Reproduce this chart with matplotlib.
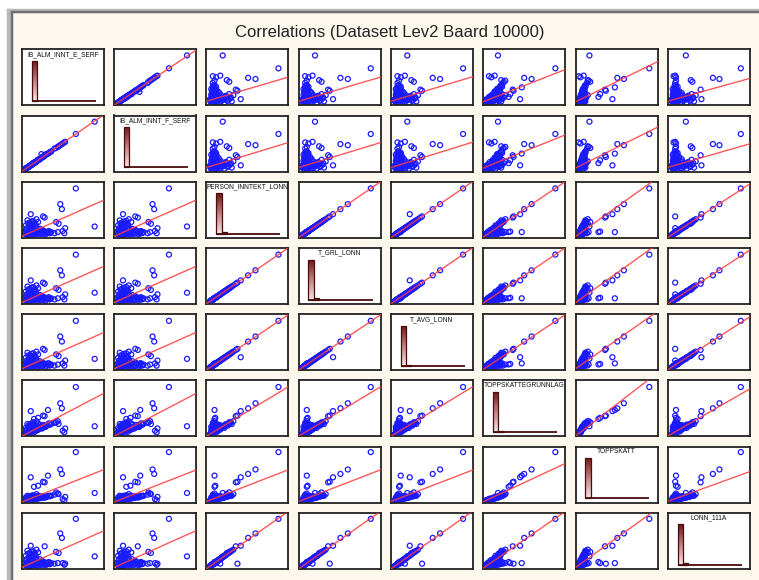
import numpy as np
import matplotlib.pyplot as plt
from matplotlib.patches import Rectangle
from matplotlib.colors import LinearSegmentedColormap

plt.rcParams['font.family'] = ['Liberation Sans', 'DejaVu Sans']

title = "Correlations (Datasett Lev2 Baard 10000)"
names = ["IB_ALM_INNT_E_SERF", "IB_ALM_INNT_F_SERF", "PERSON_INNTEKT_LONN", "T_GRL_LONN",
         "T_AVG_LONN", "TOPPSKATTEGRUNNLAG", "TOPPSKATT", "LONN_111A"]

# observations, each variable scaled to percent of its plotted range
# order: sparse cases | dense core | wage tail | low-wage group | near core | fill
ib_e = [89, 66, 49, 47, 26, 11, 32, 28, 50, 52, 53, 45, 42, 20, 15,
        11,
        10, 13, 12, 15, 14, 18, 9, 17, 20, 11,
        20, 25, 30, 35, 40, 44, 28, 22,
        8, 9, 13, 16, 7, 10, 12, 14, 9, 18, 10,
        3, 4, 5, 5, 6, 8, 10, 13, 16, 19, 21, 23, 26, 29, 31, 34, 36,
        15, 18, 24, 27, 12, 20, 9, 33, 7,
        9, 11, 13, 15, 8, 12, 6, 14, 17, 10, 5, 18, 7,
        22, 25]
ib_f = [89, 67, 49, 47, 26, 11, 32, 29, 50, 52, 53, 45, 42, 20, 15,
        11,
        10, 14, 12, 15, 15, 18, 9, 17, 21, 11,
        21, 25, 31, 35, 41, 44, 28, 22,
        8, 9, 13, 17, 7, 10, 12, 14, 9, 18, 10,
        3, 4, 5, 6, 6, 8, 10, 13, 16, 19, 21, 23, 26, 30, 31, 34, 36,
        15, 18, 31, 27, 12, 21, 9, 33, 7,
        9, 11, 13, 15, 8, 12, 6, 14, 17, 10, 5, 18, 7,
        22, 26]
person = [20, 88, 51, 60, 38, 42, 10, 36, 12, 8, 17, 25, 28, 11, 10,
          9,
          14, 18, 22, 26, 30, 33, 20, 24, 28, 16,
          8, 7, 8, 9, 8, 10, 11, 12,
          6, 5, 6, 7, 9, 11, 10, 12, 12, 10, 4,
          8, 11, 6, 14, 9, 12, 7, 9, 8, 6, 9, 7, 9, 6, 10, 8, 10,
          12, 10, 11, 12, 15, 13, 14, 12, 5,
          18, 21, 24, 23, 26, 29, 17, 19, 16, 27, 22, 18, 31,
          16, 14]
t_grl = [20, 88, 51, 60, 38, 42, 10, 36, 12, 8, 17, 25, 28, 11, 10,
         9,
         14, 18, 22, 26, 30, 33, 20, 24, 28, 16,
         8, 7, 8, 9, 8, 10, 11, 12,
         6, 5, 6, 7, 9, 11, 10, 12, 12, 10, 4,
         8, 11, 6, 14, 9, 12, 7, 9, 8, 6, 9, 7, 9, 6, 10, 8, 10,
         12, 10, 11, 12, 15, 13, 14, 12, 5,
         18, 21, 24, 23, 26, 29, 17, 19, 16, 27, 22, 18, 31,
         16, 14]
t_avg = [20, 88, 51, 60, 38, 23, 12, 36, 12, 8, 17, 25, 28, 11, 10,
         9,
         14, 18, 22, 26, 30, 33, 20, 24, 28, 16,
         8, 7, 8, 9, 8, 10, 11, 12,
         6, 5, 6, 7, 9, 11, 10, 12, 12, 10, 4,
         8, 11, 6, 14, 9, 12, 7, 9, 8, 6, 9, 7, 9, 6, 10, 8, 10,
         12, 10, 11, 12, 15, 13, 14, 12, 5,
         18, 21, 24, 23, 26, 29, 17, 19, 16, 27, 22, 18, 31,
         16, 14]
topp_grl = [18, 88, 50, 59, 37, 45, 47, 36, 10, 7, 14, 22, 25, 33, 31,
            8,
            12, 15, 18, 22, 25, 27, 17, 20, 23, 14,
            12, 14, 18, 21, 24, 27, 17, 14,
            5, 4, 6, 8, 7, 10, 9, 11, 11, 11, 3,
            4, 6, 3, 9, 6, 9, 7, 10, 11, 11, 14, 14, 17, 17, 20, 21, 23,
            13, 13, 17, 20, 14, 16, 11, 23, 4,
            14, 17, 20, 21, 19, 23, 12, 17, 17, 21, 15, 19, 22,
            20, 20]
toppskatt = [17, 90, 51, 59, 37, 45, 48, 36, 6, 4, 10, 15, 18, 30, 28,
             7,
             7, 8, 9, 11, 13, 15, 8, 10, 12, 7,
             7, 8, 10, 12, 14, 16, 9, 8,
             4, 4, 5, 6, 5, 6, 6, 7, 6, 7, 3,
             4, 5, 3, 6, 5, 6, 5, 6, 7, 7, 8, 8, 10, 9, 11, 11, 12,
             8, 8, 10, 11, 8, 9, 7, 12, 4,
             8, 10, 11, 11, 11, 12, 7, 10, 10, 11, 9, 11, 12,
             11, 11]
lonn_111a = [22, 89, 55, 63, 9, 41, 10, 40, 10, 7, 9, 28, 30, 10, 12,
             9,
             14, 19, 23, 27, 31, 34, 20, 25, 29, 16,
             8, 7, 8, 9, 9, 10, 11, 12,
             6, 5, 6, 7, 9, 11, 10, 12, 13, 10, 4,
             8, 11, 6, 15, 9, 12, 7, 9, 8, 6, 9, 7, 9, 6, 10, 8, 10,
             12, 10, 11, 12, 16, 13, 14, 12, 5,
             19, 22, 25, 23, 27, 30, 17, 20, 16, 28, 23, 18, 32,
             17, 14]

# number of records behind each observation
n_records = [1, 2] + [1] * 13 + [2500] + [12] * 10 + [1] * 8 + [5] * 11 + [1] * 41

# bin counts for the diagonal histograms (12 bins)
hist_counts = [
    [9885, 40, 28, 14, 10, 7, 5, 4, 3, 2, 1, 1],
    [9885, 42, 26, 14, 10, 7, 5, 4, 3, 2, 1, 1],
    [9580, 360, 30, 12, 6, 4, 3, 2, 1, 1, 0, 1],
    [9580, 360, 30, 12, 6, 4, 3, 2, 1, 1, 0, 1],
    [9600, 340, 30, 12, 6, 4, 3, 2, 1, 1, 0, 1],
    [9560, 380, 32, 12, 6, 4, 2, 2, 1, 0, 0, 1],
    [9900, 60, 20, 8, 5, 3, 1, 1, 1, 0, 0, 1],
    [9560, 380, 32, 12, 6, 4, 2, 2, 1, 0, 0, 1],
]

data = [ib_e, ib_f, person, t_grl, t_avg, topp_grl, toppskatt, lonn_111a]
n = len(names)
wts = np.sqrt(np.array(n_records, dtype=float))

W, H = 759, 580
fig = plt.figure(figsize=(W / 100, H / 100), dpi=100)
fig.patch.set_facecolor('#fdf8ee')

# window frame along top and left edge
fig.add_artist(Rectangle((0, 1 - 9 / H), 1, 9 / H, transform=fig.transFigure, color='white', zorder=0))
fig.add_artist(Rectangle((0, 0), 7 / W, 1, transform=fig.transFigure, color='white', zorder=0))
fig.add_artist(Rectangle((7 / W, 1 - 12 / H), 1, 3 / H, transform=fig.transFigure, color='#b8b8b8', zorder=1))
fig.add_artist(Rectangle((7 / W, 0), 5 / W, 1 - 9 / H, transform=fig.transFigure, color='#b8b8b8', zorder=1))
fig.add_artist(Rectangle((11 / W, 0), 1 / W, 1 - 11 / H, transform=fig.transFigure, color='#707070', zorder=2))
fig.add_artist(Rectangle((11 / W, 1 - 12 / H), 1, 1 / H, transform=fig.transFigure, color='#707070', zorder=2))

fig.text(390 / W, 1 - 33 / H, title, ha='center', va='center', fontsize=12, color='#222222')

grad = LinearSegmentedColormap.from_list('bar', ['#f5e4e4', '#c08080', '#6e1515'])
gimg = np.linspace(0, 1, 64).reshape(-1, 1)

pw, ph = 82, 56
for i in range(n):
    for j in range(n):
        left = 21.7 + 92.3 * j
        top = 49.3 + 66.2 * i
        ax = fig.add_axes([left / W, 1 - (top + ph) / H, pw / W, ph / H])
        ax.set_facecolor('white')
        ax.set_xticks([])
        ax.set_yticks([])
        for s in ax.spines.values():
            s.set_color('#222222')
            s.set_linewidth(1.3)
        if i == j:
            counts = np.array(hist_counts[i], dtype=float)
            top_c = counts.max()
            nb = len(counts)
            ax.hlines(0, 0, nb, color='#4a0c0c', lw=1.3, zorder=4)
            for k, c in enumerate(counts):
                if c / top_c > 0.02:
                    bar = ax.bar(k, c, width=1.0, align='edge', facecolor='none',
                                 edgecolor='#4a0c0c', linewidth=0.9, zorder=3)[0]
                    im = ax.imshow(gimg, cmap=grad, origin='lower', aspect='auto',
                                   extent=[k, k + 1, 0, c], zorder=2)
                    im.set_clip_path(bar)
            ax.set_xlim(-1.85, 13.5)
            ax.set_ylim(-0.1 * top_c, 1.29 * top_c)
            ax.text(0.5, 0.97, names[i], transform=ax.transAxes, ha='center', va='top',
                    fontsize=4.8, color='#111111', clip_on=True)
        else:
            x = np.array(data[j], dtype=float)
            y = np.array(data[i], dtype=float)
            ax.scatter(x, y, s=13, facecolors='none', edgecolors='#1a1aff', linewidths=0.9, zorder=2)
            k, m = np.polyfit(x, y, 1, w=wts)
            xs = np.array([0, 100])
            ax.plot(xs, k * xs + m, color='#ff3b3b', lw=1.0, alpha=0.85, zorder=3)
            ax.set_xlim(0, 100)
            ax.set_ylim(0, 100)

fig.savefig('out.png', dpi=100, facecolor=fig.get_facecolor())
